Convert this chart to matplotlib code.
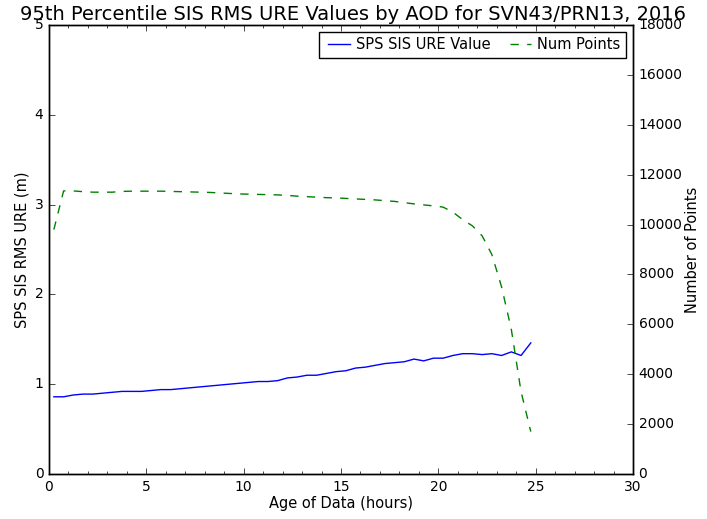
import numpy as np
import matplotlib
matplotlib.use('Agg')
import matplotlib.pyplot as plt
from matplotlib.ticker import MultipleLocator

plt.style.use('classic')
plt.rcParams['xtick.labelsize'] = 10
plt.rcParams['ytick.labelsize'] = 10

# age of data (hours)
hours = [0.25, 0.75, 1.25, 1.75, 2.25, 2.75, 3.25, 3.75, 4.25, 4.75,
         5.25, 5.75, 6.25, 6.75, 7.25, 7.75, 8.25, 8.75, 9.25, 9.75,
         10.25, 10.75, 11.25, 11.75, 12.25, 12.75, 13.25, 13.75, 14.25, 14.75,
         15.25, 15.75, 16.25, 16.75, 17.25, 17.75, 18.25, 18.75, 19.25, 19.75,
         20.25, 20.75, 21.25, 21.75, 22.25, 22.75, 23.25, 23.75, 24.25, 24.75]

ure_values = [0.86, 0.86, 0.88, 0.89, 0.89, 0.90, 0.91, 0.92, 0.92, 0.92,
              0.93, 0.94, 0.94, 0.95, 0.96, 0.97, 0.98, 0.99, 1.00, 1.01,
              1.02, 1.03, 1.03, 1.04, 1.07, 1.08, 1.10, 1.10, 1.12, 1.14,
              1.15, 1.18, 1.19, 1.21, 1.23, 1.24, 1.25, 1.28, 1.26, 1.29,
              1.29, 1.32, 1.34, 1.34, 1.33, 1.34, 1.32, 1.36, 1.32, 1.46]

num_points = [9800, 11350, 11350, 11320, 11300, 11300, 11300, 11330, 11340, 11340,
              11340, 11340, 11330, 11320, 11310, 11300, 11290, 11270, 11250, 11230,
              11220, 11210, 11200, 11190, 11170, 11140, 11120, 11100, 11080, 11070,
              11050, 11030, 11010, 10990, 10960, 10930, 10880, 10830, 10790, 10750,
              10700, 10500, 10200, 9950, 9550, 8800, 7500, 5800, 3300, 1700]

fig = plt.figure(figsize=(7.07, 5.19), dpi=100)
ax = fig.add_axes([0.0693, 0.0867, 0.826, 0.865])
ax2 = ax.twinx()

l1, = ax.plot(hours, ure_values, 'b-', label='SPS SIS URE Value')
l2, = ax2.plot(hours, num_points, 'g--', label='Num Points')

ax.set_xlim(0, 30)
ax.set_ylim(0, 5)
ax2.set_ylim(0, 18000)
ax.xaxis.set_minor_locator(MultipleLocator(1))

ax.set_xlabel('Age of Data (hours)', fontsize=10.5, labelpad=2)
ax.set_ylabel('SPS SIS RMS URE (m)', fontsize=10.5, labelpad=4)
ax2.set_ylabel('Number of Points', fontsize=10.5, labelpad=2)
# title is centred on the figure, not the axes
fig.text(0.5, 1 - 20 / 519., '95th Percentile SIS RMS URE Values by AOD for SVN43/PRN13, 2016',
         fontsize=14, ha='center', va='baseline')

ax.legend([l1, l2], ['SPS SIS URE Value', 'Num Points'], loc='upper right',
          ncol=2, fontsize=10.5, handlelength=2.1, handletextpad=0.1,
          columnspacing=1.0, borderpad=0.35, borderaxespad=0.5)

fig.savefig('out.png', dpi=100)
